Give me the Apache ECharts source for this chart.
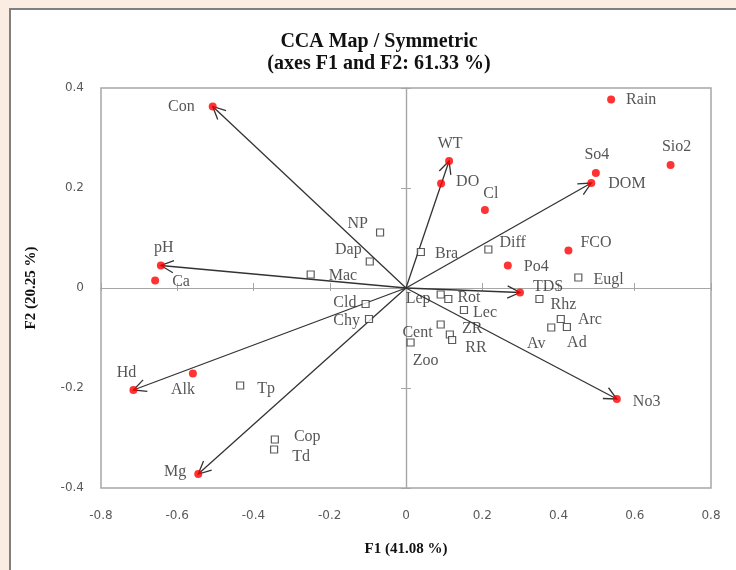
<!DOCTYPE html>
<html>
<head>
<meta charset="utf-8">
<script src="https://cdn.jsdelivr.net/npm/echarts@6/dist/echarts.min.js"></script>
<style>html,body{margin:0;padding:0;background:#fcede3;}#c{width:736px;height:570px;}</style>
</head>
<body>
<div id="c"></div>
<script>
// Environmental variables (red dots)
const envNames = ['Con','Rain','Sio2','So4','DOM','WT','DO','Cl','FCO','Po4','TDS','No3','pH','Ca','Hd','Alk','Mg'];
const envF1 = [-0.507,0.538,0.694,0.498,0.486,0.113,0.092,0.207,0.426,0.267,0.299,0.553,-0.643,-0.658,-0.715,-0.559,-0.545];
const envF2 = [0.363,0.377,0.246,0.230,0.210,0.254,0.209,0.156,0.075,0.045,-0.009,-0.222,0.045,0.015,-0.204,-0.171,-0.372];
// Variables drawn as arrows from the origin
const arrowVars = ['Con','WT','DOM','TDS','No3','pH','Hd','Mg'];
// Species (open squares)
const spNames = ['NP','Dap','Mac','Bra','Diff','Eugl','Rhz','Arc','Ad','Av','Lep','Rot','Lec','Cent','ZR','RR','Zoo','Cld','Chy','Tp','Cop','Td'];
const spF1 = [-0.068,-0.095,-0.250,0.039,0.216,0.452,0.350,0.406,0.422,0.381,0.091,0.111,0.152,0.091,0.115,0.121,0.012,-0.106,-0.097,-0.435,-0.344,-0.346];
const spF2 = [0.111,0.053,0.027,0.072,0.077,0.021,-0.022,-0.062,-0.078,-0.079,-0.013,-0.022,-0.044,-0.073,-0.093,-0.104,-0.109,-0.032,-0.062,-0.195,-0.303,-0.323];
// Axis ticks
const axisMin = -0.8, axisMax = 0.8, xStep = 0.2;
const yMin = -0.4, yMax = 0.4, yStep = 0.2;
const titleText = 'CCA Map / Symmetric\n(axes F1 and F2: 61.33 %)';
const xName = 'F1 (41.08 %)';
const yName = 'F2 (20.25 %)';

// label placement (style only)
const place = {
  Con:['left',14,[0,0]], Rain:['right',11,[0,0]], Sio2:['top',6,[6,0]], So4:['top',6,[1,0]],
  DOM:['right',13,[0,1]], WT:['top',5,[1,0]], DO:['right',11,[0,-2]], Cl:['top',4,[6,0]],
  FCO:['right',8,[0,-8]], Po4:['right',12,[0,1]], TDS:['right',9,[0,-6]], No3:['right',12,[0,3]],
  pH:['top',6,[3,0]], Ca:['right',13,[0,1]], Hd:['top',5,[-7,0]], Alk:['bottom',4,[-10,0]],
  Mg:['left',8,[0,-2]],
  NP:['left',8,[0,-9]], Dap:['left',4,[0,-12]], Mac:['right',14,[0,1]], Bra:['right',10,[0,2]],
  Diff:['right',7,[0,-7]], Eugl:['right',11,[0,2]], Rhz:['right',7,[0,6]], Arc:['right',13,[0,1]],
  Ad:['bottom',4,[10,0]], Av:['bottom',4,[-15,0]], Lep:['left',6,[0,4]], Rot:['right',5,[0,-1]],
  Lec:['right',5,[0,3]], Cent:['left',4,[0,8]], ZR:['right',8,[0,-6]], RR:['right',9,[0,8]],
  Zoo:['bottom',6,[15,0]], Cld:['left',5,[0,-1]], Chy:['left',5,[0,2]], Tp:['right',13,[0,3]],
  Cop:['right',15,[0,-3]], Td:['right',14,[0,7]]
};
function mk(names, xs, ys){
  return names.map((n,i)=>{
    const p = place[n] || ['right',6,[0,0]];
    return {name:n, value:[xs[i], ys[i]], label:{position:p[0], distance:p[1], offset:p[2]}};
  });
}
const envData = mk(envNames, envF1, envF2);
const spData = mk(spNames, spF1, spF2);
const arrowData = arrowVars.map(n=>{const i=envNames.indexOf(n); return [envF1[i], envF2[i]];});

const labelFont = {fontFamily:'Liberation Serif', fontSize:16, color:'#2b2b2b'};
const tickFont = {fontFamily:'DejaVu Sans', fontSize:12, color:'#595959'};
const zeroAxis = (pos, len) => ({type:'value', position:pos,
  axisLine:{show:true, onZero:true, lineStyle:{color:'#a6a6a6', width:1.2}},
  axisTick:{show:true, length:len, lineStyle:{color:'#a6a6a6'}}, axisLabel:{show:false}, splitLine:{show:false}});

const chart = echarts.init(document.getElementById('c'), null, {renderer:'canvas'});
chart.setOption({
  backgroundColor:'#fcede3',
  animation:false,
  graphic:[{type:'rect', z:-100, shape:{x:10,y:9,width:800,height:600}, style:{fill:'#ffffff', stroke:'#808080', lineWidth:2}}],
  title:{text:titleText, left:374, textAlign:'center', top:26,
    textStyle:{fontFamily:'Liberation Serif', fontWeight:'bold', fontSize:20, lineHeight:22, color:'#111111'}},
  grid:{left:101, top:88, width:610, height:400, show:true, borderColor:'#a6a6a6', borderWidth:1.5, backgroundColor:'transparent'},
  xAxis:[
    {type:'value', min:axisMin, max:axisMax, interval:xStep, position:'bottom',
     axisLine:{show:false, onZero:false}, axisTick:{show:false}, splitLine:{show:false},
     axisLabel:Object.assign({margin:22, formatter:v=>String(Math.round(v*10)/10)}, tickFont),
     name:xName, nameLocation:'middle', nameGap:54,
     nameTextStyle:{fontFamily:'Liberation Serif', fontWeight:'bold', fontSize:15, color:'#111111'}},
    Object.assign(zeroAxis('top',5), {min:axisMin, max:axisMax, interval:xStep}),
    Object.assign(zeroAxis('bottom',3), {min:axisMin, max:axisMax, interval:xStep})
  ],
  yAxis:[
    {type:'value', min:yMin, max:yMax, interval:yStep, position:'left',
     axisLine:{show:false, onZero:false}, axisTick:{show:false}, splitLine:{show:false},
     axisLabel:Object.assign({margin:17, formatter:v=>String(Math.round(v*10)/10)}, tickFont),
     name:yName, nameLocation:'middle', nameGap:62,
     nameTextStyle:{fontFamily:'Liberation Serif', fontWeight:'bold', fontSize:15, color:'#111111'}},
    Object.assign(zeroAxis('right',5), {min:yMin, max:yMax, interval:yStep}),
    Object.assign(zeroAxis('left',5), {min:yMin, max:yMax, interval:yStep})
  ],
  series:[
    {type:'custom', xAxisIndex:0, yAxisIndex:0, data:arrowData, z:3, silent:true,
     renderItem:function(params, api){
       const o = api.coord([0,0]);
       const t = api.coord([api.value(0), api.value(1)]);
       const ang = Math.atan2(t[1]-o[1], t[0]-o[0]);
       const L = 14, a = 0.45;
       const p1 = [t[0]-L*Math.cos(ang-a), t[1]-L*Math.sin(ang-a)];
       const p2 = [t[0]-L*Math.cos(ang+a), t[1]-L*Math.sin(ang+a)];
       return {type:'group', children:[
         {type:'line', shape:{x1:o[0],y1:o[1],x2:t[0],y2:t[1]}, style:{stroke:'#333333', lineWidth:1.3}},
         {type:'polyline', shape:{points:[p1,t,p2]}, style:{stroke:'#333333', lineWidth:1.3, fill:null}}
       ]};
     }},
    {type:'scatter', name:'Species', xAxisIndex:0, yAxisIndex:0, data:spData, symbol:'rect', symbolSize:7, z:4,
     itemStyle:{color:'#ffffff', borderColor:'#333333', borderWidth:1.2},
     label:Object.assign({show:true, formatter:'{b}'}, labelFont)},
    {type:'scatter', name:'Variables', xAxisIndex:0, yAxisIndex:0, data:envData, symbol:'circle', symbolSize:8, z:5,
     itemStyle:{color:'#ff0000'},
     label:Object.assign({show:true, formatter:'{b}'}, labelFont)}
  ]
});
</script>
</body>
</html>
